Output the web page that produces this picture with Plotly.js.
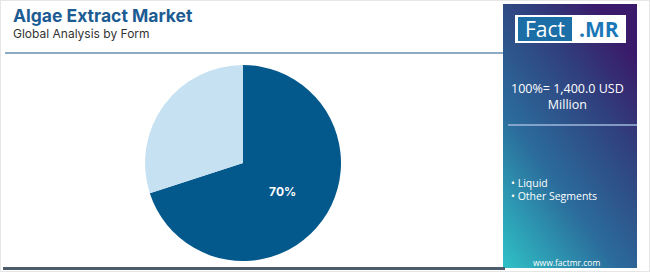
<!DOCTYPE html>
<html><head><meta charset="utf-8">
<script src="https://cdn.plot.ly/plotly-3.0.1.min.js"></script>
<style>html,body{margin:0;padding:0;background:#fff;}#chart{width:650px;height:272px;}</style>
</head><body><div id="chart"></div>
<script>
const categories = ['Liquid', 'Other Segments'];
const shares = [70, 30];
const sliceLabels = ['70%', ''];
const colors = ['#03588c', '#c6e1f2'];
const titleText = 'Algae Extract Market';
const subtitleText = 'Global Analysis by Form';
const totalText = '100%= 1,400.0 USD<br>Million';

const grad = 'data:image/svg+xml;utf8,' + encodeURIComponent(
 '<svg xmlns="http://www.w3.org/2000/svg" width="134" height="264" viewBox="0 0 134 264" preserveAspectRatio="none">' +
 '<defs><linearGradient id="g" x1="0" y1="1" x2="0.7" y2="0">' +
 '<stop offset="0" stop-color="#2fc2c6"/><stop offset="0.4" stop-color="#2b6c9c"/><stop offset="0.75" stop-color="#30407e"/><stop offset="1" stop-color="#3a1a6a"/>' +
 '</linearGradient></defs><rect width="134" height="264" fill="url(#g)"/></svg>');

const W = 650, H = 272;
const px = x => x / W, py = y => 1 - y / H;

const data = [{
  type: 'pie',
  labels: categories,
  values: shares,
  text: sliceLabels,
  texttemplate: '%{text}',
  textposition: 'inside',
  insidetextorientation: 'horizontal',
  textfont: {family: 'Inter, "Open Sans", sans-serif', size: 12, color: '#ffffff', weight: 700},
  marker: {colors: colors, line: {width: 0}},
  sort: false,
  direction: 'clockwise',
  rotation: 0,
  hoverinfo: 'none',
  showlegend: false,
  domain: {x: [px(145), px(341)], y: [py(261), py(65)]}
}];

const layout = {
  width: W, height: H,
  margin: {l: 0, r: 0, t: 0, b: 0},
  paper_bgcolor: '#ffffff',
  showlegend: false,
  images: [{source: grad, xref: 'paper', yref: 'paper', x: px(503), y: py(4), sizex: 134/W, sizey: 264/H, sizing: 'stretch', xanchor: 'left', yanchor: 'top', layer: 'below'}],
  shapes: [
    {type: 'rect', xref: 'paper', yref: 'paper', x0: 0, x1: 1, y0: 0, y1: 1, line: {color: '#e6e6e6', width: 2}, fillcolor: 'rgba(0,0,0,0)'},
    {type: 'line', xref: 'paper', yref: 'paper', x0: px(5), x1: px(503), y0: py(53), y1: py(53), line: {color: '#8eabc6', width: 2}},
    {type: 'line', xref: 'paper', yref: 'paper', x0: px(3), x1: px(505), y0: py(268.5), y1: py(268.5), line: {color: '#4d5c6b', width: 3}},
    {type: 'line', xref: 'paper', yref: 'paper', x0: px(508), x1: px(637), y0: py(125), y1: py(125), line: {color: '#9fb8dc', width: 1.5}},
    {type: 'rect', xref: 'paper', yref: 'paper', x0: px(515), x1: px(626), y0: py(43), y1: py(15), line: {width: 0}, fillcolor: '#ffffff'},
    {type: 'rect', xref: 'paper', yref: 'paper', x0: px(518), x1: px(572), y0: py(41), y1: py(17), line: {width: 0}, fillcolor: '#1b6fa6'}
  ],
  annotations: [
    {text: '<b>' + titleText + '</b>', xref: 'paper', yref: 'paper', x: px(11), y: py(15), xanchor: 'left', yanchor: 'middle', showarrow: false, font: {family: 'Inter, "Open Sans", sans-serif', size: 17.5, color: '#1d5c93', weight: 800}},
    {text: subtitleText, xref: 'paper', yref: 'paper', x: px(11), y: py(33), xanchor: 'left', yanchor: 'middle', showarrow: false, font: {family: 'Inter, "Open Sans", sans-serif', size: 12, color: '#333333'}},
    {text: 'Fact', xref: 'paper', yref: 'paper', x: px(545), y: py(29), xanchor: 'center', yanchor: 'middle', showarrow: false, font: {family: '"Open Sans", sans-serif', size: 21, color: '#ffffff'}},
    {text: '<b>.MR</b>', xref: 'paper', yref: 'paper', x: px(599), y: py(29), xanchor: 'center', yanchor: 'middle', showarrow: false, font: {family: '"Open Sans", sans-serif', size: 21, color: '#1b78b8'}},
    {text: totalText, xref: 'paper', yref: 'paper', x: px(567), y: py(96), xanchor: 'center', yanchor: 'middle', showarrow: false, font: {family: '"Open Sans", sans-serif', size: 12.5, color: '#ffffff'}},
    {text: '• ' + categories[0], xref: 'paper', yref: 'paper', x: px(509), y: py(183), xanchor: 'left', yanchor: 'middle', showarrow: false, font: {family: '"Open Sans", sans-serif', size: 10.5, color: '#ffffff'}},
    {text: '• ' + categories[1], xref: 'paper', yref: 'paper', x: px(509), y: py(196), xanchor: 'left', yanchor: 'middle', showarrow: false, font: {family: '"Open Sans", sans-serif', size: 10.5, color: '#ffffff'}},
    {text: 'www.factmr.com', xref: 'paper', yref: 'paper', x: px(566), y: py(262), xanchor: 'center', yanchor: 'middle', showarrow: false, font: {family: '"Open Sans", sans-serif', size: 8.5, color: '#ffffff'}}
  ]
};

Plotly.newPlot('chart', data, layout, {displayModeBar: false, staticPlot: true});
</script></body></html>
